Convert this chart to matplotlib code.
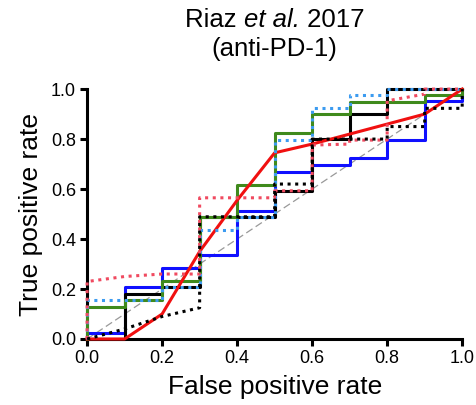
import numpy as np
import matplotlib
matplotlib.use("Agg")
import matplotlib.pyplot as plt

plt.rcParams['font.family'] = ['Liberation Sans', 'DejaVu Sans']

# false positive rate bins (step curves)
fpr_edges = [0.0, 0.1, 0.2, 0.3, 0.4, 0.5, 0.6, 0.7, 0.8, 0.9, 1.0]

# step ROC curves: TPR on each FPR interval
tpr_blue = [0.025, 0.207, 0.283, 0.336, 0.513, 0.667, 0.695, 0.723, 0.797, 0.953]
tpr_black = [0.0, 0.18, 0.207, 0.489, 0.489, 0.593, 0.80, 0.90, 1.0, 1.0]
tpr_green = [0.129, 0.156, 0.234, 0.489, 0.615, 0.824, 0.90, 0.95, 0.95, 0.976]
tpr_lightblue = [0.156, 0.156, 0.207, 0.436, 0.489, 0.796, 0.923, 0.976, 1.0, 1.0]

# polyline ROC curves
red_x = [0.0, 0.1, 0.2, 0.3, 0.4, 0.5, 0.6, 0.7, 0.8, 0.9, 1.0]
red_y = [0.0, 0.0, 0.10, 0.35, 0.555, 0.745, 0.78, 0.82, 0.86, 0.90, 1.0]

reddot_x = [0, 0, 0.1, 0.2, 0.3, 0.3, 0.5, 0.5, 0.6, 0.6, 0.7, 0.7, 0.8, 0.8, 0.9, 0.9, 1.0]
reddot_y = [0, 0.23, 0.25, 0.26, 0.26, 0.565, 0.565, 0.593, 0.593, 0.776, 0.78, 0.796, 0.796, 0.953, 0.98, 1.0, 1.0]

blackdot_x = [0, 0.1, 0.2, 0.3, 0.3, 0.5, 0.5, 0.6, 0.6, 0.8, 0.8, 0.9, 0.9, 1.0, 1.0]
blackdot_y = [0, 0.04, 0.09, 0.125, 0.489, 0.489, 0.62, 0.62, 0.80, 0.80, 0.85, 0.85, 0.923, 0.923, 1.0]

title_parts = [('Riaz ', 'normal'), ('et al.', 'italic'), (' 2017', 'normal')]
title_line2 = '(anti-PD-1)'


def step_xy(vals):
    x = [0.0] + fpr_edges + [1.0]
    y = [0.0] + list(vals) + [vals[-1], 1.0]
    return x, y


fig = plt.figure(figsize=(4.76, 4.05), dpi=100)
ax = fig.add_axes([0.183, 0.163, 0.788, 0.617])

lw = 2.2
ax.plot([0, 1], [0, 1], color='#999999', lw=0.9, ls=(0, (6, 3)), zorder=1)

x, y = step_xy(tpr_blue)
ax.plot(x, y, drawstyle='steps-post', color='#1010ff', lw=lw, clip_on=False, zorder=2)
x, y = step_xy(tpr_black)
ax.plot(x, y, drawstyle='steps-post', color='black', lw=lw, clip_on=False, zorder=3)
x, y = step_xy(tpr_green)
ax.plot(x, y, drawstyle='steps-post', color='#3f8a1c', lw=lw, clip_on=False, zorder=4)
ax.plot(red_x, red_y, color='#f01010', lw=lw, clip_on=False, zorder=5)
x, y = step_xy(tpr_lightblue)
ax.plot(x, y, drawstyle='steps-post', color='#3c9bf0', lw=lw, ls=(0, (1, 1.5)),
        clip_on=False, zorder=6)
ax.plot(reddot_x, reddot_y, color='#f04a60', lw=lw, ls=(0, (1, 1.5)), clip_on=False, zorder=7)
ax.plot(blackdot_x, blackdot_y, color='black', lw=lw, ls=(0, (1, 1.5)), clip_on=False, zorder=8)

ax.set_xlim(0, 1)
ax.set_ylim(0, 1)
ax.set_xticks(np.arange(0, 1.01, 0.2))
ax.set_yticks(np.arange(0, 1.01, 0.2))
ax.xaxis.set_major_formatter(matplotlib.ticker.FormatStrFormatter('%.1f'))
ax.yaxis.set_major_formatter(matplotlib.ticker.FormatStrFormatter('%.1f'))
for s in ['top', 'right']:
    ax.spines[s].set_visible(False)
for s in ['left', 'bottom']:
    ax.spines[s].set_linewidth(2.2)
ax.tick_params(width=2.2, length=5, labelsize=13, pad=3)

ax.set_xlabel('False positive rate', fontsize=19, labelpad=6)
ax.set_ylabel('True positive rate', fontsize=19, labelpad=6)

# title: first line built from pieces so "et al." can be italic
renderer = fig.canvas.get_renderer()
W, H = fig.get_size_inches() * fig.dpi
cx = 0.183 + 0.788 / 2
y1 = 1 - 20 / H
widths = []
for txt, style in title_parts:
    t = fig.text(0, 0, txt, fontsize=18.5, style=style)
    widths.append(t.get_window_extent(renderer).width / W)
    t.remove()
xpos = cx - sum(widths) / 2
for (txt, style), w in zip(title_parts, widths):
    fig.text(xpos, y1, txt, fontsize=18.5, style=style, ha='left', va='center')
    xpos += w
fig.text(cx, 1 - 49 / H, title_line2, fontsize=18.5, ha='center', va='center')

fig.savefig('out.png', dpi=100)
